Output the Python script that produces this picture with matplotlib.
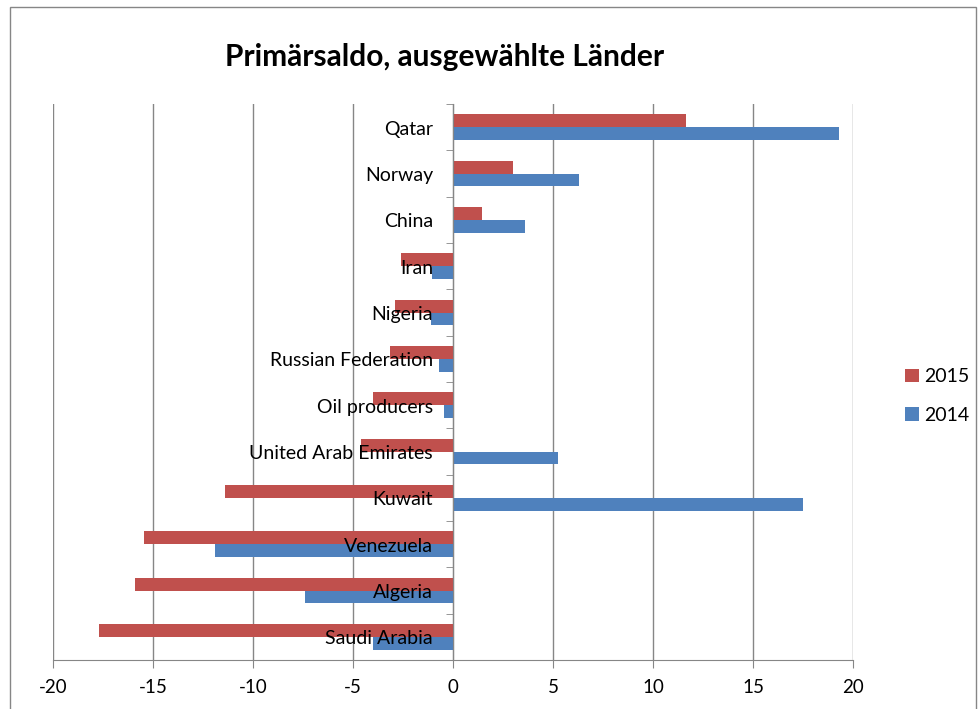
import numpy as np
import matplotlib.pyplot as plt
from matplotlib.patches import Rectangle

plt.rcParams['font.family'] = ['Lato', 'DejaVu Sans']

# Data (bottom to top)
countries = ['Saudi Arabia', 'Algeria', 'Venezuela', 'Kuwait', 'United Arab Emirates',
             'Oil producers', 'Russian Federation', 'Nigeria', 'Iran', 'China', 'Norway', 'Qatar']
values_2015 = [-17.7, -15.9, -15.45, -11.4, -4.6, -4.0, -3.13, -2.92, -2.6, 1.45, 3.0, 11.65]
values_2014 = [-4.02, -7.42, -11.9, 17.5, 5.25, -0.47, -0.68, -1.1, -1.07, 3.6, 6.3, 19.3]
xticks = [-20, -15, -10, -5, 0, 5, 10, 15, 20]

red = '#C0504D'
blue = '#4F81BD'
grey = '#868686'

fig = plt.figure(figsize=(9.79, 7.09), dpi=100)
ax = fig.add_axes([53 / 979, 1 - 660 / 709, 800 / 979, 556 / 709])

# Chart border
fig.patches.append(Rectangle((10 / 979, -0.05), 966 / 979, 1.04, transform=fig.transFigure,
                             fill=False, edgecolor=grey, linewidth=1))

y = np.arange(len(countries))
h = 0.28
ax.barh(y + h / 2, values_2015, height=h, color=red, label='2015', zorder=2)
ax.barh(y - h / 2, values_2014, height=h, color=blue, label='2014', zorder=2)

ax.set_xlim(-20, 20)
ax.set_ylim(-0.5, len(countries) - 0.5)
ax.set_xticks(xticks)
ax.set_xticklabels([str(t) for t in xticks], fontsize=13.5)
ax.grid(axis='x', color=grey, linewidth=1, zorder=0)
ax.set_axisbelow(True)

# y axis at zero, category labels drawn on top of the bars
ax.spines['left'].set_position(('data', 0))
ax.spines['left'].set_color(grey)
ax.spines['left'].set_zorder(3)
ax.spines['bottom'].set_color(grey)
ax.spines['top'].set_visible(False)
ax.spines['right'].set_visible(False)
ax.set_yticks([])
ax.set_yticks(np.arange(-0.5, len(countries), 1), minor=True)
ax.tick_params(axis='y', which='minor', length=5, color=grey, direction='out')
ax.tick_params(axis='x', length=6, color=grey, direction='out', pad=8)
for yi, name in zip(y, countries):
    ax.text(-1, yi - 0.04, name, ha='right', va='center', fontsize=14, zorder=5)

fig.text(445 / 979, 1 - 57 / 709, 'Primärsaldo, ausgewählte Länder', ha='center', va='center',
         fontsize=21.5, fontweight='bold')

handles, labels = ax.get_legend_handles_labels()
fig.legend(handles, labels, loc='center left', bbox_to_anchor=(905 / 979, 1 - 396 / 709),
           frameon=False, fontsize=14, handlelength=0.7, handleheight=0.7,
           handletextpad=0.3, labelspacing=1.1, borderpad=0, borderaxespad=0)

fig.savefig('out.png', dpi=100)
plt.close()
